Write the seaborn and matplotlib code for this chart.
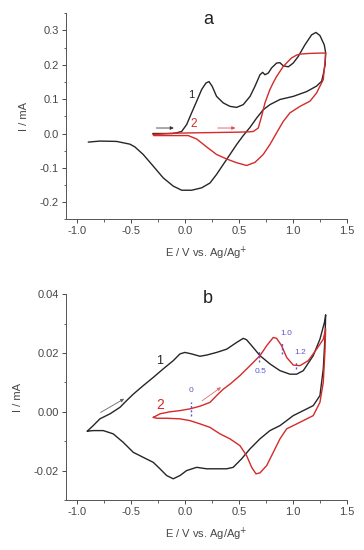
import numpy as np
import pandas as pd
import matplotlib
matplotlib.use('Agg')
import matplotlib.pyplot as plt
import seaborn as sns
from matplotlib.ticker import MultipleLocator, FormatStrFormatter

### Panel a: curve 1 (black), forward then reverse scan
a1_x = [-0.30, -0.20, -0.12, -0.08, -0.033, 0.013, 0.059, 0.106, 0.152, 0.192, 0.22, 0.25, 0.29, 0.352,
        0.414, 0.476, 0.537, 0.60, 0.645, 0.692, 0.717, 0.738, 0.769, 0.80, 0.846, 0.877, 0.907, 0.954,
        1.0, 1.046, 1.108, 1.17, 1.21, 1.247, 1.287, 1.30,
        1.295, 1.28, 1.263, 1.216, 1.124, 1.0, 0.877, 0.784, 0.722, 0.661, 0.60, 0.537, 0.476, 0.414,
        0.352, 0.29, 0.229, 0.152, 0.059, -0.033, -0.111, -0.204, -0.296, -0.389, -0.466, -0.512,
        -0.636, -0.79, -0.898]
a1_y = [0.0, 0.0, 0.0, 0.002, 0.006, 0.026, 0.06, 0.094, 0.128, 0.147, 0.151, 0.137, 0.108, 0.089,
        0.079, 0.076, 0.084, 0.108, 0.137, 0.171, 0.178, 0.171, 0.176, 0.191, 0.205, 0.206, 0.197, 0.194,
        0.205, 0.224, 0.258, 0.287, 0.294, 0.285, 0.258, 0.235,
        0.20, 0.175, 0.152, 0.138, 0.122, 0.108, 0.099, 0.084, 0.069, 0.045, 0.018, -0.006, -0.032, -0.061,
        -0.09, -0.119, -0.144, -0.158, -0.165, -0.165, -0.153, -0.129, -0.095, -0.061, -0.039, -0.031,
        -0.023, -0.022, -0.025]

### Panel a: curve 2 (red)
a2_x = [-0.30, -0.10, 0.1, 0.3, 0.5, 0.60, 0.63, 0.676, 0.707, 0.738, 0.784, 0.815, 0.846, 0.907, 0.969,
        0.985, 1.03, 1.062, 1.15, 1.25, 1.293,
        1.30, 1.296, 1.278, 1.216, 1.155, 1.062, 0.969, 0.907, 0.846, 0.784, 0.722, 0.645, 0.568, 0.476,
        0.383, 0.29, 0.198, 0.106, 0.028, -0.08, -0.293]
a2_y = [-0.003, 0.001, 0.002, 0.003, 0.004, 0.005, 0.006, 0.016, 0.05, 0.089, 0.128, 0.148, 0.166, 0.195, 0.215,
        0.22, 0.228, 0.231, 0.233, 0.234, 0.234,
        0.234, 0.215, 0.157, 0.118, 0.094, 0.079, 0.06, 0.035, 0.002, -0.032, -0.061, -0.084, -0.093, -0.085,
        -0.074, -0.061, -0.039, -0.016, -0.006, -0.006, -0.006]

### Panel b: curve 1 (black)
b1_x = [-0.907, -0.852, -0.79, -0.697, -0.605, -0.543, -0.481, -0.389, -0.296, -0.204, -0.111, -0.049, -0.003,
        0.059, 0.136, 0.198, 0.29, 0.383, 0.476, 0.537, 0.568, 0.615, 0.692, 0.784, 0.877, 0.969, 1.031, 1.093,
        1.185, 1.247, 1.293, 1.30,
        1.295, 1.278, 1.247, 1.185, 1.093, 1.0, 0.939, 0.877, 0.784, 0.692, 0.60, 0.522, 0.444, 0.383, 0.29,
        0.198, 0.106, 0.013, -0.049, -0.111, -0.172, -0.234, -0.296, -0.389, -0.481, -0.574, -0.667, -0.759,
        -0.852, -0.907]
b1_y = [-0.0066, -0.0047, -0.0024, -0.0007, 0.0015, 0.0038, 0.006, 0.0089, 0.0117, 0.0146, 0.0174, 0.0197, 0.0202,
        0.0197, 0.0189, 0.0193, 0.0202, 0.0213, 0.0236, 0.025, 0.0245, 0.0225, 0.0191, 0.0163, 0.014, 0.0128, 0.0128,
        0.014, 0.0191, 0.0247, 0.031, 0.033,
        0.026, 0.0146, 0.0055, 0.0021, 0.0004, -0.0013, -0.003, -0.0047, -0.0064, -0.0092, -0.0126, -0.016,
        -0.0189, -0.0194, -0.0194, -0.0194, -0.0189, -0.020, -0.0217, -0.0228, -0.0217, -0.0194, -0.0172,
        -0.0155, -0.0138, -0.0104, -0.0075, -0.0064, -0.0064, -0.0066]

### Panel b: curve 2 (red)
b2_x = [-0.296, -0.234, -0.142, -0.049, 0.044, 0.136, 0.229, 0.29, 0.352, 0.414, 0.506, 0.60, 0.692, 0.754,
        0.815, 0.846, 0.892, 0.939, 1.0, 1.062, 1.139, 1.216, 1.278, 1.30,
        1.293, 1.278, 1.247, 1.185, 1.093, 1.0, 0.939, 0.877, 0.815, 0.754, 0.692, 0.655, 0.615, 0.568, 0.506,
        0.414, 0.321, 0.229, 0.136, 0.044, -0.049, -0.172, -0.265, -0.296]
b2_y = [-0.0019, -0.0007, 0.0, 0.0004, 0.001, 0.0019, 0.0032, 0.0055, 0.0077, 0.0094, 0.0123, 0.0157, 0.0191,
        0.0225, 0.0253, 0.025, 0.0225, 0.0185, 0.0159, 0.0157, 0.0174, 0.0213, 0.0247, 0.0283,
        0.0202, 0.010, 0.0032, -0.0013, -0.003, -0.0047, -0.0058, -0.0092, -0.0138, -0.0183, -0.0208, -0.0211,
        -0.0189, -0.0149, -0.0115, -0.0092, -0.0075, -0.0053, -0.0041, -0.003, -0.0024, -0.0022, -0.0022, -0.0019]

### Blue potential markers on curve 2 (panel b)
mark_x = [0.053, 0.685, 0.90, 1.03]
mark_lo = [-0.0013, 0.0168, 0.0197, 0.0146]
mark_hi = [0.0032, 0.0208, 0.0236, 0.0174]
mark_labels = ['0', '0.5', '1.0', '1.2']
mark_lx = [0.053, 0.70, 0.94, 1.06]
mark_ly = [0.0072, 0.0138, 0.0268, 0.0202]

BLACK = '#262626'
RED = '#d42a2a'
BLUE = '#5a5ad0'
GREY = '#474747'

sns.set_theme(style='ticks')
plt.rcParams['font.family'] = ['Liberation Sans', 'DejaVu Sans']

fig = plt.figure(figsize=(3.64, 5.5), dpi=100)
axA = fig.add_axes([0.181, 0.601, 0.773, 0.375])
axB = fig.add_axes([0.181, 0.091, 0.773, 0.374])

def draw(ax, x1, y1, x2, y2):
    sns.lineplot(x=x1, y=y1, sort=False, estimator=None, color=BLACK, linewidth=1.0, ax=ax)
    sns.lineplot(x=x2, y=y2, sort=False, estimator=None, color=RED, linewidth=1.0, ax=ax)

draw(axA, a1_x, a1_y, a2_x, a2_y)
draw(axB, b1_x, b1_y, b2_x, b2_y)

# Blue marks in panel b:
for mx, lo, hi, lab, lx, ly in zip(mark_x, mark_lo, mark_hi, mark_labels, mark_lx, mark_ly):
    axB.plot([mx, mx], [lo, hi], color=BLUE, linestyle=(0, (1.5, 1.5)), linewidth=1.0)
    axB.text(lx, ly, lab, color=BLUE, fontsize=6, ha='center', va='center')

# Axes formatting:
for ax, ylim, major, minor, fmt in [(axA, (-0.25, 0.35), 0.1, 0.05, '%.1f'), (axB, (-0.03, 0.04), 0.02, 0.01, '%.2f')]:
    ax.set_xlim(-1.105, 1.5)
    ax.set_ylim(*ylim)
    ax.xaxis.set_major_locator(MultipleLocator(0.5))
    ax.xaxis.set_minor_locator(MultipleLocator(0.25))
    ax.yaxis.set_major_locator(MultipleLocator(major))
    ax.yaxis.set_minor_locator(MultipleLocator(minor))
    ax.xaxis.set_major_formatter(FormatStrFormatter('%.1f'))
    ax.yaxis.set_major_formatter(FormatStrFormatter(fmt))
    ax.tick_params(which='major', direction='out', length=3, width=0.7, labelsize=8, colors=GREY, pad=2)
    ax.tick_params(which='minor', direction='out', length=1.8, width=0.6, colors=GREY)
    sns.despine(ax=ax)
    for sp in ['left', 'bottom']:
        ax.spines[sp].set_linewidth(0.7)
        ax.spines[sp].set_color('#555555')
    ax.set_xlabel('E / V vs. Ag/Ag$^{+}$', fontsize=8, color=GREY, labelpad=6)
    ax.set_ylabel('I / mA', fontsize=8, color=GREY, labelpad=8)

# Panel letters and curve numbers:
axA.text(0.21, 0.332, 'a', fontsize=13, ha='center', va='center', color='#222222')
axB.text(0.21, 0.0385, 'b', fontsize=13, ha='center', va='center', color='#222222')
axA.text(0.06, 0.113, '1', fontsize=8, ha='center', va='center', color=BLACK)
axA.text(0.075, 0.028, '2', fontsize=8.5, ha='center', va='center', color=RED)
axB.text(-0.234, 0.0174, '1', fontsize=9, ha='center', va='center', color=BLACK)
axB.text(-0.234, 0.0023, '2', fontsize=10, ha='center', va='center', color=RED)

# Scan direction arrows:
axA.annotate('', xy=(-0.08, 0.016), xytext=(-0.293, 0.016),
             arrowprops=dict(arrowstyle='-|>', color='#333333', lw=0.6, mutation_scale=5))
axA.annotate('', xy=(0.49, 0.016), xytext=(0.275, 0.016),
             arrowprops=dict(arrowstyle='-|>', color='#e05050', lw=0.6, mutation_scale=5))
axB.annotate('', xy=(-0.543, 0.0049), xytext=(-0.806, -0.0007),
             arrowprops=dict(arrowstyle='-|>', color='#666666', lw=0.6, mutation_scale=5))
axB.annotate('', xy=(0.352, 0.0089), xytext=(0.136, 0.0032),
             arrowprops=dict(arrowstyle='-|>', color='#e07070', lw=0.6, mutation_scale=5))

plt.savefig('out.png', dpi=100)
